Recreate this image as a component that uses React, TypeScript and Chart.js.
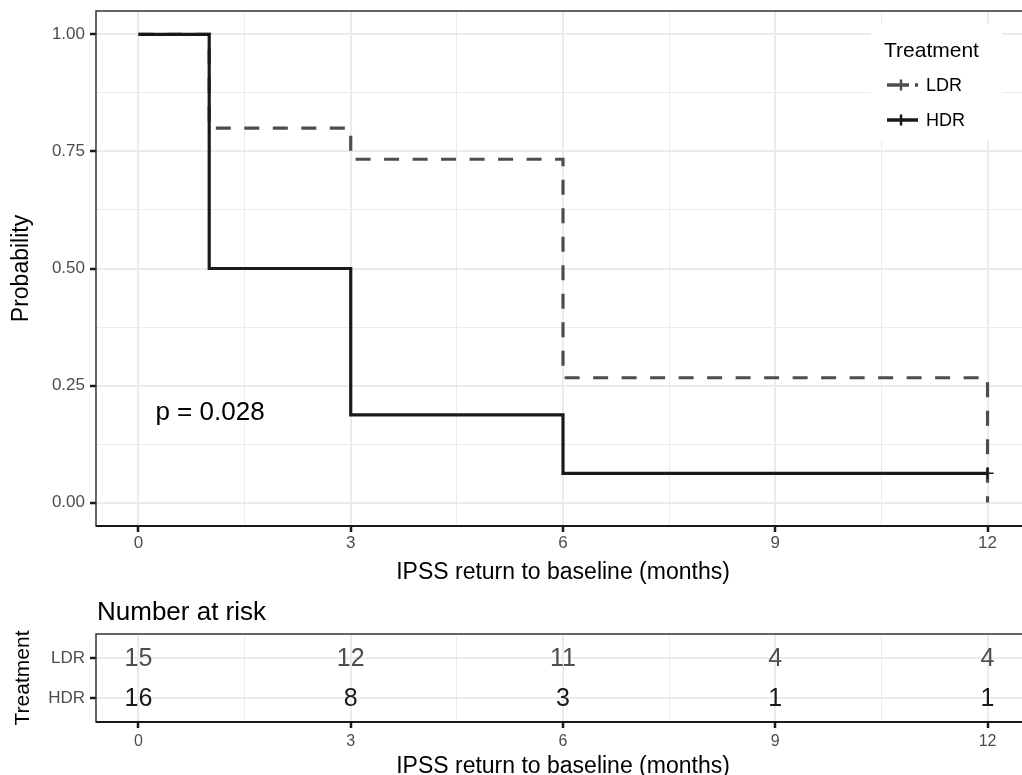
import React, { useEffect, useRef } from 'react';
import { Chart, registerables } from 'chart.js';

Chart.register(...registerables);

const FONT = '"Liberation Sans", Arial, Helvetica, sans-serif';

// ---- Kaplan-Meier data ----
const TIME_HDR = [0, 1, 3, 6, 12];
const SURV_HDR = [1, 0.5, 0.1875, 0.0625, 0.0625];
const TIME_LDR = [0, 1, 3, 6, 12];
const SURV_LDR = [1, 0.8, 0.7333, 0.2667, 0];
const CENSOR_TIME_HDR = [12];
const CENSOR_SURV_HDR = [0.0625];

// ---- axes ----
const X_TICKS = [0, 3, 6, 9, 12];
const X_MINOR = [1.5, 4.5, 7.5, 10.5];
const Y_TICKS = [0, 0.25, 0.5, 0.75, 1];
const Y_MINOR = [0.125, 0.375, 0.625, 0.875];
const X_TITLE = 'IPSS return to baseline (months)';
const Y_TITLE = 'Probability';

// ---- risk table ----
const GROUPS = ['LDR', 'HDR'];
const RISK_TIMES = [0, 3, 6, 9, 12];
const RISK_LDR = [15, 12, 11, 4, 4];
const RISK_HDR = [16, 8, 3, 1, 1];

// ---- annotations ----
const P_TEXT = 'p = 0.028';
const P_AT = [0.24, 0.2];
const LEGEND_TITLE = 'Treatment';
const RISK_TITLE = 'Number at risk';

const HDR_COLOR = '#1a1a1a';
const LDR_COLOR = '#4d4d4d';
const GRID_COLOR = '#ebebeb';
const TICK_TEXT = '#4d4d4d';

const isIn = (arr: number[], v: number) => arr.some((a) => Math.abs(a - v) < 1e-9);

function gridFor(major: number[]) {
  return {
    color: GRID_COLOR,
    lineWidth: (c: any) => (c.tick && isIn(major, c.tick.value) ? 2 : 1),
    tickColor: (c: any) => (c.tick && isIn(major, c.tick.value) ? '#1a1a1a' : 'rgba(0,0,0,0)'),
    tickWidth: (c: any) => (c.tick && isIn(major, c.tick.value) ? 2.5 : 0),
    tickLength: 6,
    drawTicks: true,
  };
}

const panelBorder = {
  id: 'panelBorder',
  afterDatasetsDraw(chart: any) {
    const { ctx, chartArea: a } = chart;
    ctx.save();
    ctx.strokeStyle = '#333333';
    ctx.lineWidth = 1.5;
    ctx.strokeRect(a.left, a.top, a.right - a.left, a.bottom - a.top);
    ctx.strokeStyle = '#1a1a1a';
    ctx.lineWidth = 2;
    ctx.beginPath();
    ctx.moveTo(a.left, a.bottom);
    ctx.lineTo(a.right, a.bottom);
    ctx.stroke();
    ctx.restore();
  },
};

const mainDecor = {
  id: 'mainDecor',
  afterDraw(chart: any) {
    const { ctx } = chart;
    const xs = chart.scales.x;
    const ys = chart.scales.y;
    ctx.save();
    // p-value
    ctx.fillStyle = '#000';
    ctx.font = `26px ${FONT}`;
    ctx.textAlign = 'left';
    ctx.textBaseline = 'middle';
    ctx.fillText(P_TEXT, xs.getPixelForValue(P_AT[0]), ys.getPixelForValue(P_AT[1]) + 4);

    // legend
    ctx.fillStyle = '#ffffff';
    ctx.fillRect(871, 24, 131, 116);
    ctx.fillStyle = '#000';
    ctx.font = `21px ${FONT}`;
    ctx.fillText(LEGEND_TITLE, 884, 51);
    const items = [
      { label: 'LDR', color: LDR_COLOR, dash: [22, 6], y: 85 },
      { label: 'HDR', color: HDR_COLOR, dash: [], y: 120 },
    ];
    items.forEach((it) => {
      ctx.strokeStyle = it.color;
      ctx.lineWidth = 3.5;
      ctx.setLineDash(it.dash);
      ctx.beginPath();
      ctx.moveTo(887, it.y);
      ctx.lineTo(918, it.y);
      ctx.stroke();
      ctx.setLineDash([]);
      ctx.lineWidth = 2.5;
      ctx.beginPath();
      ctx.moveTo(901, it.y - 5.5);
      ctx.lineTo(901, it.y + 5.5);
      ctx.stroke();
      ctx.fillStyle = '#000';
      ctx.font = `18px ${FONT}`;
      ctx.fillText(it.label, 926, it.y + 1);
    });
    ctx.restore();
  },
};

const riskDecor = {
  id: 'riskDecor',
  afterDatasetsDraw(chart: any) {
    const { ctx, chartArea } = chart;
    ctx.save();
    ctx.textAlign = 'center';
    ctx.textBaseline = 'middle';
    ctx.font = `25px ${FONT}`;
    chart.data.datasets.forEach((ds: any, di: number) => {
      const meta = chart.getDatasetMeta(di);
      ctx.fillStyle = ds.textColor;
      meta.data.forEach((el: any, i: number) => {
        ctx.fillText(String(ds.risk[i]), el.x, el.y + 1.5);
      });
    });
    ctx.fillStyle = '#000';
    ctx.textAlign = 'left';
    ctx.font = `26px ${FONT}`;
    ctx.fillText(RISK_TITLE, chartArea.left + 1, 22.5);
    ctx.restore();
  },
};

function zeroPad(s: any) {
  s.paddingTop = 0;
  s.paddingBottom = 0;
  s.paddingLeft = 0;
  s.paddingRight = 0;
}

function xScale(height: number, tickSize: number, tickPad: number, titlePadBottom: number) {
  return {
    type: 'linear',
    min: -0.6,
    max: 12.6,
    afterBuildTicks: (s: any) => {
      s.ticks = [...X_TICKS, ...X_MINOR].sort((a, b) => a - b).map((v) => ({ value: v }));
    },
    afterFit: (s: any) => {
      s.height = height;
      zeroPad(s);
    },
    ticks: {
      autoSkip: false,
      maxRotation: 0,
      minRotation: 0,
      padding: tickPad,
      color: TICK_TEXT,
      font: { family: FONT, size: tickSize },
      callback: (v: number) => (isIn(X_TICKS, v) ? String(v) : ''),
    },
    grid: gridFor(X_TICKS),
    border: { display: false },
    title: {
      display: true,
      text: X_TITLE,
      color: '#000',
      font: { family: FONT, size: 23 },
      padding: { top: 0, bottom: titlePadBottom },
    },
  };
}

export default function App() {
  const mainRef = useRef<HTMLCanvasElement>(null);
  const riskRef = useRef<HTMLCanvasElement>(null);

  useEffect(() => {
    const main = new Chart(mainRef.current as HTMLCanvasElement, {
      type: 'line',
      data: {
        datasets: [
          {
            label: 'HDR',
            data: TIME_HDR.map((t, i) => ({ x: t, y: SURV_HDR[i] })),
            borderColor: HDR_COLOR,
            borderWidth: 3.2,
            stepped: true,
            pointRadius: 0,
            fill: false,
          },
          {
            label: 'HDR censored',
            data: CENSOR_TIME_HDR.map((t, i) => ({ x: t, y: CENSOR_SURV_HDR[i] })),
            showLine: false,
            pointStyle: 'cross',
            pointRadius: 6,
            pointBorderWidth: 1.5,
            pointBorderColor: HDR_COLOR,
            borderColor: HDR_COLOR,
          },
          {
            label: 'LDR',
            data: TIME_LDR.map((t, i) => ({ x: t, y: SURV_LDR[i] })),
            borderColor: LDR_COLOR,
            borderWidth: 3.2,
            borderDash: [15, 13.5],
            stepped: true,
            pointRadius: 0,
            fill: false,
          },
        ],
      } as any,
      options: {
        responsive: false,
        animation: false,
        devicePixelRatio: 1,
        layout: { autoPadding: false, padding: { left: 0, right: 0, top: 11, bottom: 0 } },
        plugins: {
          legend: { display: false },
          tooltip: { enabled: false },
          title: { display: false },
        },
        scales: {
          x: xScale(64, 17, 1, 4),
          y: {
            type: 'linear',
            min: -0.05,
            max: 1.05,
            afterBuildTicks: (s: any) => {
              s.ticks = [...Y_TICKS, ...Y_MINOR].sort((a, b) => a - b).map((v) => ({ value: v }));
            },
            afterFit: (s: any) => {
              s.width = 96;
              zeroPad(s);
            },
            ticks: {
              autoSkip: false,
              padding: 5,
              color: TICK_TEXT,
              font: { family: FONT, size: 17 },
              callback: (v: number) => (isIn(Y_TICKS, v) ? v.toFixed(2) : ''),
            },
            grid: gridFor(Y_TICKS),
            border: { display: false },
            title: {
              display: true,
              text: Y_TITLE,
              color: '#000',
              font: { family: FONT, size: 23 },
              padding: { top: 8, bottom: 0 },
            },
          },
        } as any,
      },
      plugins: [panelBorder, mainDecor],
    });

    const risk = new Chart(riskRef.current as HTMLCanvasElement, {
      type: 'scatter',
      data: {
        datasets: [
          {
            label: 'LDR',
            data: RISK_TIMES.map((t) => ({ x: t, y: GROUPS.indexOf('LDR') })),
            risk: RISK_LDR,
            textColor: LDR_COLOR,
            pointRadius: 0,
          },
          {
            label: 'HDR',
            data: RISK_TIMES.map((t) => ({ x: t, y: GROUPS.indexOf('HDR') })),
            risk: RISK_HDR,
            textColor: HDR_COLOR,
            pointRadius: 0,
          },
        ],
      } as any,
      options: {
        responsive: false,
        animation: false,
        devicePixelRatio: 1,
        layout: { autoPadding: false, padding: { left: 0, right: 0, top: 44, bottom: 0 } },
        plugins: {
          legend: { display: false },
          tooltip: { enabled: false },
          title: { display: false },
        },
        scales: {
          x: xScale(63, 16, 4, 5),
          y: {
            type: 'linear',
            reverse: true,
            min: -0.6,
            max: 1.6,
            afterBuildTicks: (s: any) => {
              s.ticks = GROUPS.map((_, i) => ({ value: i }));
            },
            afterFit: (s: any) => {
              s.width = 96;
              zeroPad(s);
            },
            ticks: {
              autoSkip: false,
              padding: 5,
              color: TICK_TEXT,
              font: { family: FONT, size: 17 },
              callback: (v: number) => GROUPS[Math.round(v)] ?? '',
            },
            grid: gridFor([0, 1]),
            border: { display: false },
            title: {
              display: true,
              text: LEGEND_TITLE,
              color: '#000',
              font: { family: FONT, size: 21 },
              padding: { top: 11, bottom: 0 },
            },
          },
        } as any,
      },
      plugins: [panelBorder, riskDecor],
    });

    return () => {
      main.destroy();
      risk.destroy();
    };
  }, []);

  return (
    <div
      style={{
        position: 'absolute',
        left: 0,
        top: 0,
        width: 1022,
        height: 775,
        overflow: 'hidden',
        background: '#ffffff',
      }}
    >
      <canvas
        ref={mainRef}
        width={1030}
        height={590}
        style={{ position: 'absolute', left: 0, top: 0, width: 1030, height: 590 }}
      />
      <canvas
        ref={riskRef}
        width={1030}
        height={195}
        style={{ position: 'absolute', left: 0, top: 590, width: 1030, height: 195 }}
      />
    </div>
  );
}
